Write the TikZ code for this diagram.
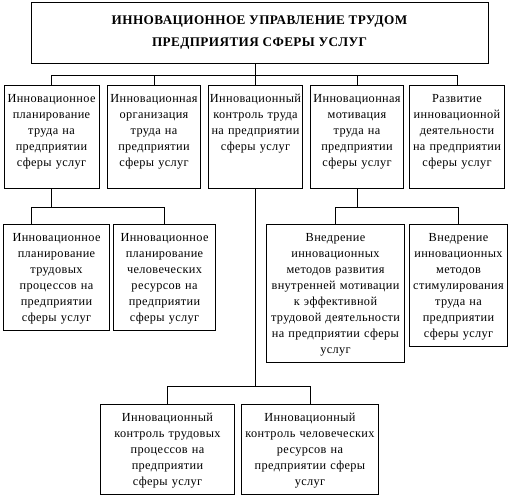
\documentclass[tikz,border=0pt]{standalone}
\usepackage{fontspec}
\setmainfont{Liberation Serif}[LetterSpace=3.0]
\usepackage{tikz}

\begin{document}
\begin{tikzpicture}[x=1pt,y=-1pt,
    cell/.style={draw,line width=0.9pt,anchor=north,align=center,text width=#1,
        inner xsep=0.5pt,inner ysep=5.5pt,text height=12pt,font=\fontsize{12.3}{16}\selectfont},
    tall/.style={text depth=80pt},
    wire/.style={line width=0.9pt}]
    \useasboundingbox(0,0)rectangle(512,498);

    \node[draw,line width=0.9pt,anchor=north,minimum width=457pt,minimum height=61pt,align=center,
        font=\bfseries\fontsize{13.2}{22}\selectfont](top)at(259.5,2)
        {ИННОВАЦИОННОЕ УПРАВЛЕНИЕ ТРУДОМ\\ПРЕДПРИЯТИЯ СФЕРЫ УСЛУГ};

    \node[cell=94pt,tall](pA)at(51.5,85){Инновационное\\планирование\\труда на\\предприятии\\сферы услуг};
    \node[cell=92pt,tall](pB)at(154,85){Инновационная\\организация\\труда на\\предприятии\\сферы услуг};
    \node[cell=93pt,tall](pC)at(255.5,85){Инновационный\\контроль труда\\на предприятии\\сферы услуг};
    \node[cell=92pt,tall](pD)at(357,85){Инновационная\\мотивация\\труда на\\предприятии\\сферы услуг};
    \node[cell=94pt,tall](pE)at(457,85){Развитие\\инновационной\\деятельности\\на предприятии\\сферы услуг};

    \node[cell=105pt](lA)at(56.5,224){Инновационное\\планирование\\трудовых\\процессов на\\предприятии\\сферы услуг};
    \node[cell=101pt](lB)at(164.5,224){Инновационное\\планирование\\человеческих\\ресурсов на\\предприятии\\сферы услуг};
    \node[cell=137pt](rA)at(335.5,224){Внедрение\\инновационных\\методов развития\\внутренней мотивации\\к эффективной\\трудовой деятельности\\на предприятии сферы\\услуг};
    \node[cell=97pt](rB)at(458.5,224){Внедрение\\инновационных\\методов\\стимулирования\\труда на\\предприятии\\сферы услуг};

    \node[cell=133pt](bA)at(167.5,404){Инновационный\\контроль трудовых\\процессов на\\предприятии\\сферы услуг};
    \node[cell=136pt](bB)at(310,404){Инновационный\\контроль человеческих\\ресурсов на\\предприятии сферы\\услуг};

    \foreach \n in {pA,pB,pC,pD,pE}
        \draw[wire](top.south -| pC.north)--++(0,12)-|(\n.north);
    \draw[wire](pA.south)--++(0,19)-|([xshift=-25.5pt]lA.north);
    \draw[wire](pA.south)--++(0,19)-|(lB.north);
    \draw[wire](pD.south)--++(0,19)-|(rA.north);
    \draw[wire](pD.south)--++(0,19)-|(rB.north);
    \draw[wire](pC.south)--++(0,198)-|(bA.north);
    \draw[wire](pC.south)--++(0,198)-|(bB.north);
\end{tikzpicture}
\end{document}
